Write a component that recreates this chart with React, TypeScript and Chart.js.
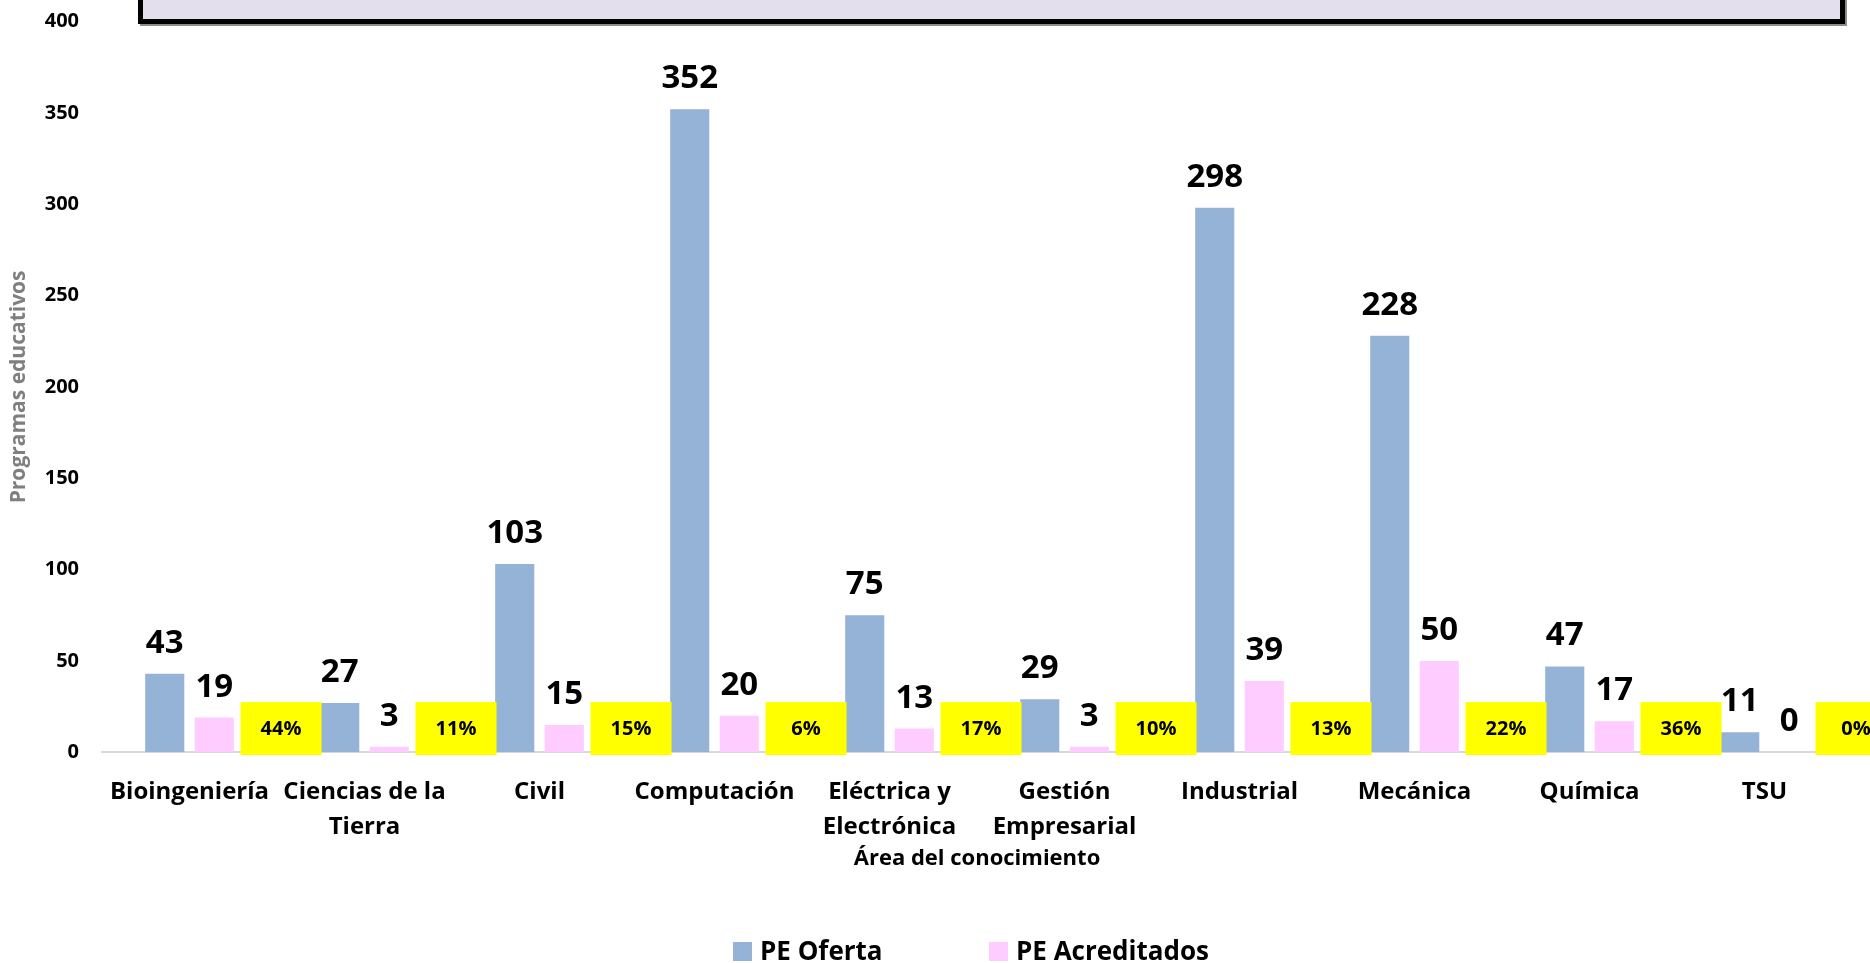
import React, { useEffect, useRef } from "react";
import { Chart, registerables } from "chart.js";

Chart.register(...registerables);

const categories: string[][] = [
  ["Bioingeniería"],
  ["Ciencias de la", "Tierra"],
  ["Civil"],
  ["Computación"],
  ["Eléctrica y", "Electrónica"],
  ["Gestión", "Empresarial"],
  ["Industrial"],
  ["Mecánica"],
  ["Química"],
  ["TSU"],
];

const peOferta: number[] = [43, 27, 103, 352, 75, 29, 298, 228, 47, 11];
const peAcreditados: number[] = [19, 3, 15, 20, 13, 3, 39, 50, 17, 0];
const porcentajes: string[] = ["44%", "11%", "15%", "6%", "17%", "10%", "13%", "22%", "36%", "0%"];
const yTicks: number[] = [0, 50, 100, 150, 200, 250, 300, 350, 400];

const seriesNames = ["PE Oferta", "PE Acreditados"];
const seriesColors = ["#95B3D7", "#FFCCFF"];

const FONT = "'Open Sans', 'Noto Sans', sans-serif";
const W = 1870;
const H = 963;

const overlayPlugin = {
  id: "overlay",
  afterDraw(chart: any) {
    const ctx: CanvasRenderingContext2D = chart.ctx;
    const xs = chart.scales.x;
    const ys = chart.scales.y;
    ctx.save();

    // Title box (cut off at the top)
    ctx.lineWidth = 5;
    ctx.strokeStyle = "#8c8c8c";
    ctx.strokeRect(142.5, -20, 1702, 43.5);
    ctx.fillStyle = "#E4DFEC";
    ctx.fillRect(140.5, -20, 1702, 41.5);
    ctx.strokeStyle = "#000000";
    ctx.strokeRect(140.5, -20, 1702, 41.5);

    // value labels
    ctx.fillStyle = "#000000";
    ctx.font = `bold 33px ${FONT}`;
    ctx.textAlign = "center";
    ctx.textBaseline = "alphabetic";
    chart.data.datasets.forEach((ds: any, di: number) => {
      const meta = chart.getDatasetMeta(di);
      meta.data.forEach((bar: any, i: number) => {
        ctx.fillText(String(ds.data[i]), bar.x, bar.y - 21);
      });
    });

    // yellow percentage boxes
    const catW = (xs.right - xs.left) / categories.length;
    const cy = ys.getPixelForValue(13);
    const bw = 81;
    const bh = 53;
    ctx.font = `bold 20px ${FONT}`;
    ctx.textBaseline = "middle";
    porcentajes.forEach((p, i) => {
      const cx = xs.getPixelForValue(i) + catW * 0.523;
      ctx.fillStyle = "#FFFF00";
      ctx.fillRect(cx - bw / 2, cy - bh / 2, bw, bh);
      ctx.fillStyle = "#000000";
      ctx.fillText(p, cx, cy + 1);
    });

    // legend
    const legendItems = [
      { x: 733, name: seriesNames[0], color: seriesColors[0] },
      { x: 989, name: seriesNames[1], color: seriesColors[1] },
    ];
    ctx.font = `bold 26px ${FONT}`;
    ctx.textAlign = "left";
    ctx.textBaseline = "alphabetic";
    legendItems.forEach((it) => {
      ctx.fillStyle = it.color;
      ctx.fillRect(it.x, 942, 19, 19);
      ctx.fillStyle = "#000000";
      ctx.fillText(it.name, it.x + 27, 960);
    });

    ctx.restore();
  },
};

export default function App() {
  const ref = useRef<HTMLCanvasElement | null>(null);

  useEffect(() => {
    if (!ref.current) return;
    const chart = new Chart(ref.current, {
      type: "bar",
      data: {
        labels: categories,
        datasets: [
          {
            label: seriesNames[0],
            data: peOferta,
            backgroundColor: seriesColors[0],
            categoryPercentage: 0.566,
            barPercentage: 0.79,
          },
          {
            label: seriesNames[1],
            data: peAcreditados,
            backgroundColor: seriesColors[1],
            categoryPercentage: 0.566,
            barPercentage: 0.79,
          },
        ],
      },
      options: {
        responsive: false,
        animation: false,
        devicePixelRatio: 1,
        layout: { padding: { top: 21.5, left: 0, right: 18, bottom: 0 } },
        plugins: {
          legend: { display: false },
          tooltip: { enabled: false },
          title: { display: false },
        },
        scales: {
          x: {
            grid: { display: false, drawTicks: false, tickLength: 0 },
            border: { display: true, color: "#D9D9D9", width: 2 },
            ticks: {
              color: "#000000",
              font: { family: FONT, size: 24, weight: "bold", lineHeight: 1.48 },
              padding: 22,
              maxRotation: 0,
              minRotation: 0,
              autoSkip: false,
            },
            title: {
              display: true,
              text: "Área del conocimiento",
              color: "#000000",
              font: { family: FONT, size: 22, weight: "bold", lineHeight: 1.2 },
              padding: { top: 0, bottom: 91 },
            },
            afterFit(scale: any) {
              scale.height = H - 752.3;
              scale.paddingLeft = 0;
              scale.paddingRight = 0;
            },
          },
          y: {
            min: 0,
            max: 400,
            afterBuildTicks(scale: any) {
              scale.ticks = yTicks.map((v) => ({ value: v }));
            },
            grid: { display: false, drawTicks: false, tickLength: 0 },
            border: { display: false },
            ticks: {
              color: "#000000",
              font: { family: FONT, size: 20, weight: "bold" },
              padding: 23,
            },
            title: {
              display: true,
              text: "Programas educativos",
              color: "#7F7F7F",
              font: { family: FONT, size: 21, weight: "bold", lineHeight: 1.2 },
              padding: { top: 6, bottom: 0 },
            },
            afterFit(scale: any) {
              scale.width = 102;
              scale.paddingTop = 0;
              scale.paddingBottom = 0;
            },
          },
        },
      },
      plugins: [overlayPlugin],
    } as any);
    return () => chart.destroy();
  }, []);

  return (
    <div style={{ position: "fixed", left: 0, top: 0, width: W, height: H, background: "#ffffff" }}>
      <canvas ref={ref} width={W} height={H} style={{ display: "block", width: W, height: H }} />
    </div>
  );
}
